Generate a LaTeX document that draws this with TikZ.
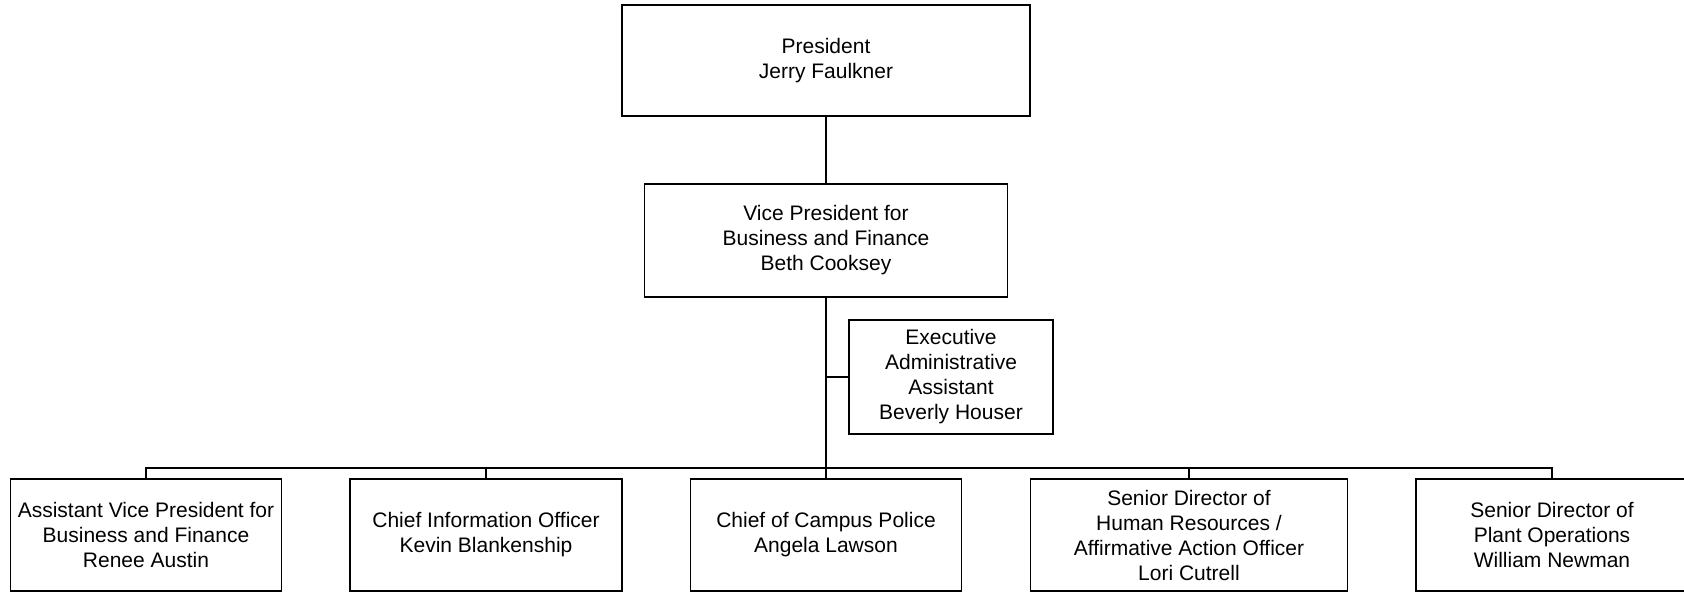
\documentclass[tikz,border=0pt]{standalone}
\usepackage{fontspec}
\setmainfont{Liberation Sans}
\begin{document}
\begin{tikzpicture}[x=1pt,y=-1pt,
  orgbox/.style={draw=black, line width=1.5pt, fill=white, align=center, inner sep=0pt,
    font=\fontsize{21}{25}\selectfont},
  link/.style={draw=black, line width=1.5pt}]
\useasboundingbox (0,0) rectangle (1684,593);
\node[orgbox, minimum width=408pt, minimum height=111pt] (pres) at (826,60.5) {President\\Jerry Faulkner};
\node[orgbox, minimum width=363pt, minimum height=113pt] (vp) at (826,240.5) {Vice President for\\Business and Finance\\Beth Cooksey};
\node[orgbox, minimum width=204pt, minimum height=114pt] (ea) at (951,377) {Executive\\Administrative\\Assistant\\Beverly Houser};
\node[orgbox, minimum width=271pt, minimum height=112pt] (b1) at (146,535) {Assistant Vice President for\\Business and Finance\\Renee Austin};
\node[orgbox, minimum width=272pt, minimum height=112pt] (b2) at (486,535) {Chief Information Officer\\Kevin Blankenship};
\node[orgbox, minimum width=271pt, minimum height=112pt] (b3) at (826,535) {Chief of Campus Police\\Angela Lawson};
\node[orgbox, minimum width=317pt, minimum height=112pt] (b4) at (1189,535) {Senior Director of\\Human Resources /\\Affirmative Action Officer\\Lori Cutrell};
\node[orgbox, minimum width=272pt, minimum height=112pt] (b5) at (1552,535) {Senior Director of\\Plant Operations\\William Newman};
\coordinate (bus) at (826,468);
\draw[link] (pres.south) -- (vp.south |- pres.south) -- (vp.north);
\draw[link] (vp.south) -- (bus);
\draw[link] (ea.west) -- (ea.west -| vp.south);
\draw[link] (b1.north) |- (bus) -| (b5.north);
\draw[link] (b2.north) |- (bus);
\draw[link] (b3.north) -- (bus);
\draw[link] (b4.north) |- (bus);
\end{tikzpicture}
\end{document}
